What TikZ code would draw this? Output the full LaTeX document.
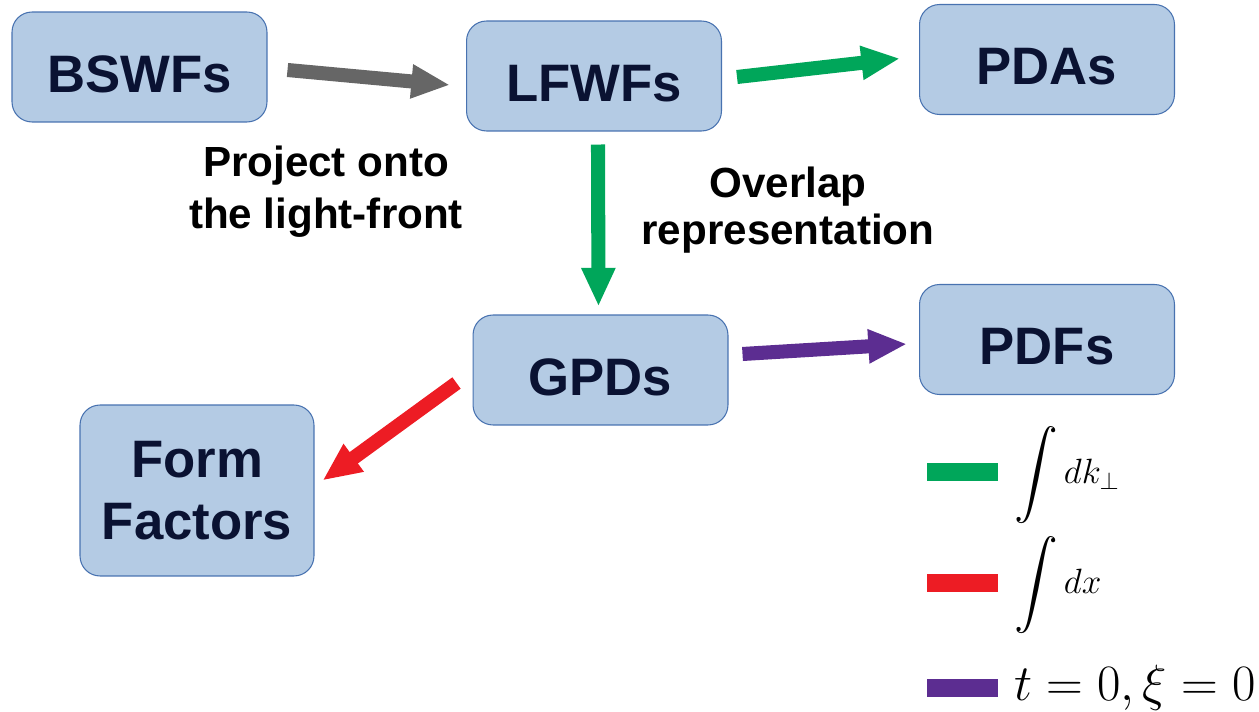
\documentclass[tikz,border=0pt]{standalone}
\usepackage{fix-cm}
\usepackage{amsmath}
\usepackage[no-math]{fontspec}
\setmainfont{Liberation Sans}
\usetikzlibrary{arrows.meta,calc}

\definecolor{boxfill}{RGB}{180,203,228}
\definecolor{boxline}{RGB}{72,114,176}
\definecolor{boxtext}{RGB}{10,18,50}
\definecolor{arrgray}{RGB}{102,102,102}
\definecolor{arrgreen}{RGB}{0,166,90}
\definecolor{arrred}{RGB}{237,28,36}
\definecolor{arrpurple}{RGB}{92,45,145}

\newcommand{\bigint}{\mathop{\vcenter{\hbox{\scalebox{1.2}{$\displaystyle\int$}}}}}

\begin{document}
\begin{tikzpicture}[
    x=0.02cm, y=-0.02cm,
    block/.style={rectangle, draw=boxline, line width=0.6pt, fill=boxfill, rounded corners=0.4cm,
        text=boxtext, font=\fontsize{30}{36}\selectfont\bfseries, text height=29pt, text depth=0pt,
        minimum width=5.1cm, minimum height=2.2cm},
    label/.style={align=center, font=\fontsize{24}{29.5}\selectfont\bfseries},
    arrow/.style={line width=8pt, -{Triangle[length=22pt, width=18pt]}},
    legbar/.style={rectangle, inner sep=0pt, minimum width=1.42cm, minimum height=0.36cm},
    legtext/.style={anchor=base west, inner sep=0pt, font=\fontsize{20}{24}\selectfont}
]
\useasboundingbox (0,0) rectangle (1259,712);

% Nodes
\node[block] (bswf) at (139.5,67) {BSWFs};
\node[block] (lfwf) at (594,76) {LFWFs};
\node[block] (pda) at (1047,59.5) {PDAs};
\node[block] (gpd) at (600.5,370) {GPDs};
\node[block] (pdf) at (1047,339.5) {PDFs};
\node[block, align=center, text height=, minimum width=4.68cm, minimum height=3.42cm,
    font=\fontsize{30}{35}\selectfont\bfseries] (ff) at (197,490.5) {Form\\Factors};

\node[label] (project) at (326,192) {Project onto\\the light-front};
\node[label, font=\fontsize{24}{27}\selectfont\bfseries] (overlap) at (788,210) {Overlap\\representation};

% Legend
\node[legbar, fill=arrgreen] (kbar) at (962.5,472) {};
\node[legbar, fill=arrred] (xbar) at (962.5,583) {};
\node[legbar, fill=arrpurple] (tbar) at (962.5,688) {};
\node[legtext] (ktext) at (1014,484) {$\bigint dk_\perp$};
\node[legtext] (xtext) at (1014,594) {$\bigint dx$};
\node[legtext, font=\fontsize{29}{34}\selectfont] (ttext) at (1014,701) {$t=0,\xi=0$};

% Arrows
\draw[arrow, arrgray] ($(bswf.east)+(20,3)$) -- ($(lfwf.west)+(-16,9)$);
\draw[arrow, arrgreen] ($(lfwf.east)+(15,1)$) -- ($(pda.west)+(-19,-1)$);
\draw[arrow, arrgreen] ($(lfwf.south)+(4,13)$) -- ($(gpd.north)+(-2,-8)$);
\draw[arrow, arrred] ($(gpd.west)+(-16,13)$) -- ($(ff.east)+(8,-10)$);
\draw[arrow, arrpurple] ($(gpd.east)+(14,-16)$) -- ($(pdf.west)+(-12,4.5)$);
\end{tikzpicture}
\end{document}
